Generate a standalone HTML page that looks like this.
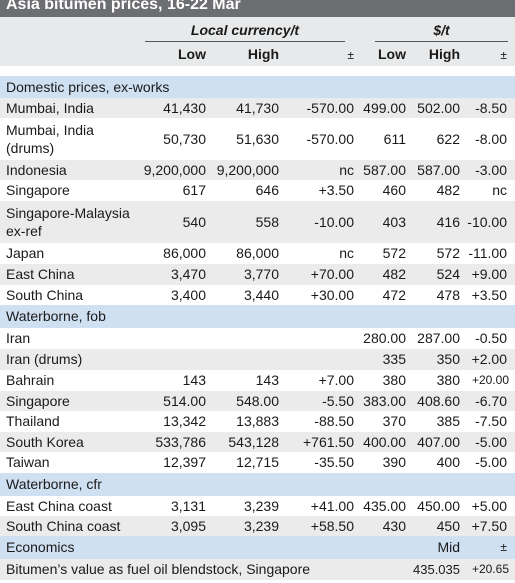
<!DOCTYPE html>
<html><head><meta charset="utf-8">
<style>
body{margin:0;width:515px;height:583px;overflow:hidden;background:#fff;font-family:"Liberation Sans","DejaVu Sans",sans-serif;font-size:14px;color:#1a1a1a;position:relative}
.r{position:absolute;left:0;width:515px}
.c{position:absolute;top:0;white-space:nowrap}
.l{left:6px}
.n{text-align:right}
</style></head><body>
<div class="r" style="top:0;height:17px;background:#6d6e71;color:#fff;font-weight:bold;font-size:16px;line-height:12px"><span style="position:absolute;left:6px;top:-1px">Asia bitumen prices, 16-22 Mar</span></div>
<div class="r" style="top:17px;height:49px;background:#e8e9ea">
 <div style="position:absolute;left:145px;width:200px;top:5px;text-align:center;font-style:italic;font-weight:bold">Local currency/t</div>
 <div style="position:absolute;left:145px;width:200px;top:24px;border-top:1.5px solid #555"></div>
 <div style="position:absolute;left:375px;width:133px;top:5px;text-align:center;font-style:italic;font-weight:bold">$/t</div>
 <div style="position:absolute;left:375px;width:133px;top:24px;border-top:1.5px solid #555"></div>
 <div class="c n" style="right:309px;top:29px;font-weight:bold">Low</div>
 <div class="c n" style="right:236px;top:29px;font-weight:bold">High</div>
 <div class="c n" style="right:161px;top:31px;font-size:12px">±</div>
 <div class="c n" style="right:109px;top:29px;font-weight:bold">Low</div>
 <div class="c n" style="right:55px;top:29px;font-weight:bold">High</div>
 <div class="c n" style="right:8px;top:31px;font-size:12px">±</div>
</div>
<div id="tbl"></div>
<script>
const labels=["Domestic prices, ex-works","Mumbai, India","Mumbai, India<br>(drums)","Indonesia","Singapore","Singapore-Malaysia<br>ex-ref","Japan","East China","South China","Waterborne, fob","Iran","Iran (drums)","Bahrain","Singapore","Thailand","South Korea","Taiwan","Waterborne, cfr","East China coast","South China coast"];
const kinds=["s","g","w","g","w","g","w","g","w","s","w","g","w","g","w","g","w","s","w","g"];
const lowLocal=["","41,430","50,730","9,200,000","617","540","86,000","3,470","3,400","","","","143","514.00","13,342","533,786","12,397","","3,131","3,095"];
const highLocal=["","41,730","51,630","9,200,000","646","558","86,000","3,770","3,440","","","","143","548.00","13,883","543,128","12,715","","3,239","3,239"];
const chgLocal=["","-570.00","-570.00","nc","+3.50","-10.00","nc","+70.00","+30.00","","","","+7.00","-5.50","-88.50","+761.50","-35.50","","+41.00","+58.50"];
const lowUsd=["","499.00","611","587.00","460","403","572","482","472","","280.00","335","380","383.00","370","400.00","390","","435.00","430"];
const highUsd=["","502.00","622","587.00","482","416","572","524","478","","287.00","350","380","408.60","385","407.00","400","","450.00","450"];
const chgUsd=["","-8.50","-8.00","-3.00","nc","-10.00","-11.00","+9.00","+3.50","","-0.50","+2.00","+20.00","-6.70","-7.50","-5.00","-5.00","","+5.00","+7.50"];
const heights=[22,20,42,20,21,42,21,21,20,23,21,21,21,20,21,20,21,23,20,20];
const tbl=document.getElementById('tbl');
const rights=[309,236,161,109,55,8];
let y=76;
labels.forEach((lab,i)=>{
  const h=heights[i];
  const row=document.createElement('div');
  row.className='r';
  
  
  row.style.top=y+'px';row.style.height=h+'px';
  row.style.background=kinds[i]==='s'?'#cfe0f2':(kinds[i]==='g'?'#ebebec':'#fff');
  let html='<div class="c l" style="line-height:'+(h>30?'18px;top:3px':h+'px')+'">'+lab+'</div>';
  const vals=[lowLocal[i],highLocal[i],chgLocal[i],lowUsd[i],highUsd[i],chgUsd[i]];
  vals.forEach((v,j)=>{
    if(!v)return;
    const small=(j===5&&v.charAt(0)==='+'&&v.length>5)?'font-size:12px;':'';
    const rr=(small?rights[j]-2:rights[j]);
    html+='<div class="c n" style="'+small+'right:'+rr+'px;line-height:'+h+'px">'+v+'</div>';
  });
  row.innerHTML=html;
  tbl.appendChild(row);
  y+=h;
});
</script>
<div class="r" style="top:536px;height:23px;background:#cfe0f2;line-height:23px">
 <span class="c l">Economics</span><span class="c n" style="right:55px">Mid</span><span class="c n" style="right:8px;font-size:12px">±</span></div>
<div class="r" style="top:559px;height:21px;background:#ebebec;line-height:21px">
 <span class="c l">Bitumen’s value as fuel oil blendstock, Singapore</span><span class="c n" style="right:55px;font-size:13px">435.035</span><span class="c n" style="right:6px;font-size:12px">+20.65</span></div>
</body></html>
